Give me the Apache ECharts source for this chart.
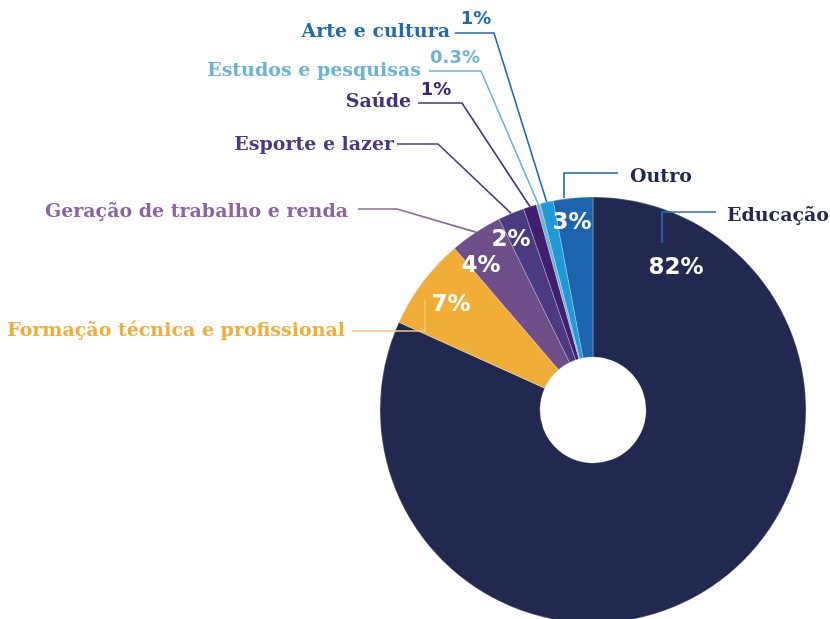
<!DOCTYPE html>
<html>
<head>
<meta charset="utf-8">
<title>Distribuição por área</title>
<script src="https://cdn.jsdelivr.net/npm/echarts@6/dist/echarts.min.js"></script>
<style>
html, body { margin: 0; padding: 0; background: #ffffff; }
#chart { width: 830px; height: 619px; }
</style>
</head>
<body>
<div id="chart"></div>
<script>
// dados (%), em sentido horário a partir do topo
var categorias = ['Educação', 'Formação técnica e profissional', 'Geração de trabalho e renda', 'Esporte e lazer', 'Saúde', 'Estudos e pesquisas', 'Arte e cultura', 'Outro']
var valores = [82, 7, 4, 2, 1, 0.3, 1, 3]
var rotulos = ['82%', '7%', '4%', '2%', '1%', '0.3%', '1%', '3%']

// cores
var coresFatia = ['#222951', '#f0ae38', '#6e4f8a', '#4b3a7f', '#3f1f6e', '#6bb4d8', '#1f9ad6', '#1c64ae']
var coresNome = ['#222951', '#f0ae38', '#8a65a0', '#4b3a82', '#43307e', '#6bb4d8', '#1e6ab4', '#222951']
var coresLinha = ['#2a6cb4', '#f6c96c', '#8a65a0', '#4b3a82', '#43307e', '#6bb4d8', '#1e6ab4', '#1c64ae']
var coresPct = ['#ffffff', '#ffffff', '#ffffff', '#ffffff', '#3a2570', '#6bb4d8', '#1e6ab4', '#ffffff']
var tamPct = [23, 23, 23, 23, 18, 18, 18, 23]

// posição dos nomes [x, y, alinhamento]
var posNome = [
  [727, 216, 'left'],
  [345, 331, 'right'],
  [348, 212, 'right'],
  [394, 145, 'right'],
  [411, 102, 'right'],
  [421, 71, 'right'],
  [450, 32, 'right'],
  [630, 177, 'left']
]
// linhas de chamada: início junto ao texto, cotovelo, fim (null = borda da fatia)
var linhas = [
  { ini: [716, 212], cot: [662, 212], fim: [662, 243] },
  { ini: [352, 331], cot: [425, 331], fim: [425, 300] },
  { ini: [358, 209], cot: [397, 209], fim: null },
  { ini: [397, 144], cot: [438, 144], fim: null },
  { ini: [418, 103], cot: [462, 103], fim: null },
  { ini: [429, 71], cot: [481, 71], fim: null },
  { ini: [455, 33], cot: [494, 33], fim: null },
  { ini: [618, 173], cot: [564, 173], fim: [564, 198] }
]
// posição dos percentuais
var posPct = [
  [676, 268], [451, 305], [481, 266], [511, 240], [436, 90], [455, 58], [476, 19], [572, 223]
]

var myChart = echarts.init(document.getElementById('chart'))

var fatias = []
var nomes = []
var pcts = []
for (var i = 0; i < categorias.length; i++) {
  fatias.push({ name: categorias[i], value: valores[i], itemStyle: { color: coresFatia[i] } })
  nomes.push({
    name: categorias[i],
    value: valores[i],
    label: { color: coresNome[i] },
    labelLine: { lineStyle: { color: coresLinha[i] } }
  })
  pcts.push({
    name: categorias[i],
    value: valores[i],
    label: { color: coresPct[i], fontSize: tamPct[i] }
  })
}

var comum = {
  type: 'pie',
  center: [593, 410],
  radius: [53, 213],
  startAngle: 90,
  avoidLabelOverlap: false
}

var option = {
  animation: false,
  series: [
    Object.assign({}, comum, {
      z: 2,
      data: fatias,
      itemStyle: { borderColor: 'rgba(255,255,255,0.45)', borderWidth: 0.6 },
      label: { show: false },
      labelLine: { show: false }
    }),
    // nomes e linhas de chamada (por cima das fatias)
    Object.assign({}, comum, {
      z: 3,
      silent: true,
      data: nomes,
      itemStyle: { color: 'rgba(0,0,0,0)', borderWidth: 0 },
      label: {
        show: true,
        position: 'outside',
        formatter: '{b}',
        fontFamily: 'DejaVu Serif',
        fontWeight: 'bold',
        fontSize: 19
      },
      labelLine: { show: true, length: 10, length2: 10, lineStyle: { width: 1.6 } },
      labelLayout: function (p) {
        var n = posNome[p.dataIndex]
        var l = linhas[p.dataIndex]
        var fim = l.fim || (p.labelLinePoints ? p.labelLinePoints[0] : l.cot)
        return {
          x: n[0],
          y: n[1],
          align: n[2],
          verticalAlign: 'middle',
          labelLinePoints: [fim, l.cot, l.ini]
        }
      }
    }),
    // percentuais
    Object.assign({}, comum, {
      z: 4,
      silent: true,
      data: pcts,
      itemStyle: { color: 'rgba(0,0,0,0)', borderWidth: 0 },
      label: {
        show: true,
        position: 'inside',
        formatter: function (p) { return rotulos[p.dataIndex] },
        fontFamily: 'DejaVu Sans',
        fontWeight: 'bold'
      },
      labelLine: { show: false },
      labelLayout: function (p) {
        var q = posPct[p.dataIndex]
        return { x: q[0], y: q[1], align: 'center', verticalAlign: 'middle' }
      }
    })
  ]
}
myChart.setOption(option)
window.addEventListener('resize', function () {
  myChart.resize()
})
</script>
</body>
</html>
